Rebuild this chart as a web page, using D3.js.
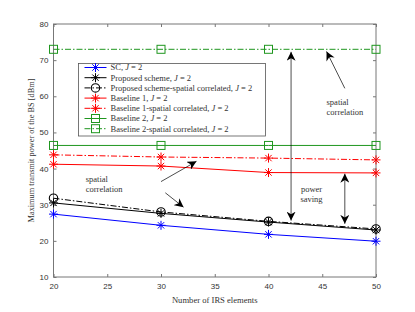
<!DOCTYPE html>
<html>
<head>
<meta charset="utf-8">
<script src="https://cdn.jsdelivr.net/npm/d3@7"></script>
<style>
  body { margin: 0; background: #fff; }
  svg { display: block; }
  .tick text { font-family: "Liberation Sans", Arial, sans-serif; font-size: 8px; fill: #333; }
  .serif { font-family: "Liberation Serif", "DejaVu Serif", serif; fill: #333; }
</style>
</head>
<body>
<div id="container"></div>
<script>
const irsElements = [20, 30, 40, 50];
const scJ2 = [27.4, 24.3, 21.8, 19.9];
const proposedJ2 = [30.5, 27.6, 25.2, 23.0];
const proposedCorrJ2 = [31.8, 28.0, 25.4, 23.3];
const baseline1J2 = [41.2, 40.7, 38.9, 38.8];
const baseline1CorrJ2 = [43.8, 43.2, 42.9, 42.4];
const baseline2J2 = [46.4, 46.4, 46.4, 46.4];
const baseline2CorrJ2 = [73, 73, 73, 73];
const xTicks = [20, 25, 30, 35, 40, 45, 50];
const yTicks = [10, 20, 30, 40, 50, 60, 70, 80];

const w = 415;
const h = 312;
const margin = { left: 53.5, right: 415 - 376, top: 24, bottom: 312 - 277 };
const green = "#1f961f";

const series = [
  { name: "SC", values: scJ2, color: "#0000ff", dash: null, marker: "star" },
  { name: "Proposed scheme", values: proposedJ2, color: "#000000", dash: null, marker: "star" },
  { name: "Proposed scheme-spatial correlated", values: proposedCorrJ2, color: "#000000", dash: "6,2,1.5,2", marker: "circle" },
  { name: "Baseline 1", values: baseline1J2, color: "#ff0000", dash: null, marker: "star" },
  { name: "Baseline 1-spatial correlated", values: baseline1CorrJ2, color: "#ff0000", dash: "6,2,1.5,2", marker: "star" },
  { name: "Baseline 2", values: baseline2J2, color: green, dash: null, marker: "square" },
  { name: "Baseline 2-spatial correlated", values: baseline2CorrJ2, color: green, dash: "6,2,1.5,2", marker: "square" },
];

const xScale = d3.scaleLinear().domain([20, 50]).range([margin.left, w - margin.right]);
const yScale = d3.scaleLinear().domain([10, 80]).range([h - margin.bottom, margin.top]);

const svg = d3.select("#container").append("svg")
  .attr("width", w).attr("height", h)
  .attr("viewBox", `0 0 ${w} ${h}`);

const defs = svg.append("defs");
defs.append("marker")
  .attr("id", "arrow")
  .attr("viewBox", "0 0 10 10")
  .attr("refX", 10).attr("refY", 5)
  .attr("markerWidth", 9).attr("markerHeight", 9)
  .attr("markerUnits", "userSpaceOnUse")
  .attr("orient", "auto-start-reverse")
  .append("path")
  .attr("d", "M0,0 L10,5 L0,10 L3,5 Z")
  .attr("fill", "#000");

// axes (box with inward ticks)
const plotW = w - margin.left - margin.right;
const plotH = h - margin.top - margin.bottom;
const axisColor = "#777";

function styleAxis(g, hideText) {
  g.select(".domain").remove();
  g.selectAll(".tick line").attr("stroke", axisColor);
  if (hideText) g.selectAll(".tick text").remove();
}

svg.append("g")
  .attr("transform", `translate(0, ${h - margin.bottom})`)
  .call(d3.axisBottom(xScale).tickValues(xTicks).tickSizeInner(-3).tickSizeOuter(0).tickPadding(6))
  .call((g) => styleAxis(g, false));
svg.append("g")
  .attr("transform", `translate(0, ${margin.top})`)
  .call(d3.axisTop(xScale).tickValues(xTicks).tickSizeInner(-3).tickSizeOuter(0))
  .call((g) => styleAxis(g, true));
svg.append("g")
  .attr("transform", `translate(${margin.left}, 0)`)
  .call(d3.axisLeft(yScale).tickValues(yTicks).tickSizeInner(-3).tickSizeOuter(0).tickPadding(5))
  .call((g) => styleAxis(g, false));
svg.append("g")
  .attr("transform", `translate(${w - margin.right}, 0)`)
  .call(d3.axisRight(yScale).tickValues(yTicks).tickSizeInner(-3).tickSizeOuter(0))
  .call((g) => styleAxis(g, true));

svg.append("rect")
  .attr("x", margin.left).attr("y", margin.top)
  .attr("width", plotW).attr("height", plotH)
  .attr("fill", "none").attr("stroke", axisColor).attr("stroke-width", 1);

// axis labels
svg.append("text")
  .attr("class", "serif")
  .attr("x", (margin.left + w - margin.right) / 2)
  .attr("y", 303)
  .attr("text-anchor", "middle")
  .style("font-size", "8.6px")
  .text("Number of IRS elements");

svg.append("text")
  .attr("class", "serif")
  .attr("transform", `translate(34, ${(margin.top + h - margin.bottom) / 2}) rotate(-90)`)
  .attr("text-anchor", "middle")
  .style("font-size", "8.3px")
  .text("Maximum transmit power of the BS [dBm]");

// markers
function drawMarker(g, type, color, cx, cy) {
  if (type === "star") {
    const r = 4.5;
    const d = r * Math.SQRT1_2;
    g.append("path")
      .attr("d", `M${cx - r},${cy}L${cx + r},${cy}M${cx},${cy - r}L${cx},${cy + r}` +
        `M${cx - d},${cy - d}L${cx + d},${cy + d}M${cx - d},${cy + d}L${cx + d},${cy - d}`)
      .attr("stroke", color).attr("stroke-width", 1).attr("fill", "none");
  } else if (type === "circle") {
    g.append("circle").attr("cx", cx).attr("cy", cy).attr("r", 4.2)
      .attr("stroke", color).attr("stroke-width", 1.1).attr("fill", "none");
  } else if (type === "square") {
    g.append("rect").attr("x", cx - 4).attr("y", cy - 4).attr("width", 8).attr("height", 8)
      .attr("stroke", color).attr("stroke-width", 1).attr("fill", "none");
  }
}

const line = d3.line()
  .x((d, i) => xScale(irsElements[i]))
  .y((d) => yScale(d));

const plot = svg.append("g");
series.forEach((s) => {
  plot.append("path")
    .datum(s.values)
    .attr("d", line)
    .attr("fill", "none")
    .attr("stroke", s.color)
    .attr("stroke-width", 1)
    .attr("stroke-dasharray", s.dash);
  s.values.forEach((v, i) => drawMarker(plot, s.marker, s.color, xScale(irsElements[i]), yScale(v)));
});

// annotations
const arrows = [
  { x1: 42.1, y1: 25.6, x2: 42.1, y2: 72.3, both: true },
  { x1: 47.1, y1: 24.7, x2: 47.1, y2: 38.6, both: true },
  { x1: 47.1, y1: 62.2, x2: 45.4, y2: 72.4, both: false },
  { x1: 30.0, y1: 36.4, x2: 33.3, y2: 42.0, both: false },
  { x1: 30.4, y1: 33.3, x2: 32.1, y2: 29.3, both: false },
];
arrows.forEach((a) => {
  svg.append("line")
    .attr("x1", xScale(a.x1)).attr("y1", yScale(a.y1))
    .attr("x2", xScale(a.x2)).attr("y2", yScale(a.y2))
    .attr("stroke", "#000").attr("stroke-width", 0.7)
    .attr("marker-end", "url(#arrow)")
    .attr("marker-start", a.both ? "url(#arrow)" : null);
});

const notes = [
  { x: 45.4, y: 57.6, lines: ["spatial", "correlation"], anchor: "start" },
  { x: 23.0, y: 36.2, lines: ["spatial", "correlation"], anchor: "start" },
  { x: 44.0, y: 33.5, lines: ["power", "saving"], anchor: "middle" },
];
notes.forEach((n) => {
  const t = svg.append("text")
    .attr("class", "serif")
    .attr("text-anchor", n.anchor)
    .style("font-size", "8.5px");
  n.lines.forEach((l, i) => {
    t.append("tspan").attr("x", xScale(n.x)).attr("y", yScale(n.y) + i * 10).text(l);
  });
});

// legend
const legend = svg.append("g").attr("transform", "translate(78.5, 63.5)");
legend.append("rect")
  .attr("width", 187).attr("height", 72.5)
  .attr("fill", "#fff").attr("stroke", "#555").attr("stroke-width", 0.8);
series.forEach((s, i) => {
  const y = 4 + i * 10.2;
  legend.append("line")
    .attr("x1", 6).attr("x2", 28).attr("y1", y).attr("y2", y)
    .attr("stroke", s.color).attr("stroke-width", 1)
    .attr("stroke-dasharray", s.dash);
  drawMarker(legend, s.marker, s.color, 17, y);
  const t = legend.append("text")
    .attr("class", "serif")
    .attr("x", 32).attr("y", y + 2.8)
    .style("font-size", "8.5px");
  t.append("tspan").text(`${s.name}, `);
  t.append("tspan").style("font-style", "italic").text("J");
  t.append("tspan").text(" = 2");
});
</script>
</body>
</html>
